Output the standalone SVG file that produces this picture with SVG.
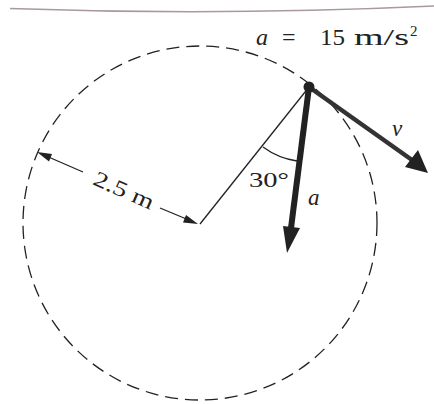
<svg xmlns="http://www.w3.org/2000/svg" width="434" height="404" viewBox="0 0 434 404">
<style>
text{font-family:"Liberation Serif","DejaVu Serif",serif;fill:#222}
.i{font-style:italic}
.thin{stroke:#222;stroke-width:1.3;fill:none}
.head{fill:#222}
</style>
<rect width="434" height="404" fill="#fff"/>
<path d="M10,8.5 Q220,16 434,6" stroke="#a89a98" stroke-width="1.6" fill="none"/>
<g id="path-circle">
<circle cx="200" cy="223" r="177" fill="none" stroke="#222" stroke-width="1.3" stroke-dasharray="13 7"/>
</g>
<g id="connectors">
<line id="radius" x1="200" y1="224" x2="309" y2="87" class="thin"/>
<path id="angle-arc" d="M263,147 A76,76 0 0 0 297,161" class="thin"/>
<line id="dim-left" x1="45" y1="155.5" x2="83" y2="172" class="thin"/>
<path class="head" d="M37,152 L52,154 L49,161.5 Z"/>
<line id="dim-right" x1="160" y1="208" x2="190" y2="220.5" class="thin"/>
<path class="head" d="M198,224 L183,222.5 L186,215 Z"/>
<line id="accel" x1="309" y1="87" x2="291" y2="228" stroke="#222" stroke-width="6"/>
<path class="head" d="M283,226 L300,228 L287,253 Z"/>
<line id="vel" x1="309" y1="87" x2="412" y2="160" stroke="#333" stroke-width="4.5"/>
<path class="head" d="M405,167 L418,150 L428,173 Z"/>
</g>
<g id="particle">
<circle cx="309" cy="87" r="5.5" fill="#222"/>
</g>
<g id="labels">
<text y="45" font-size="24"><tspan class="i" x="256">a</tspan><tspan x="282">=</tspan><tspan x="320" textLength="25" lengthAdjust="spacingAndGlyphs">15</tspan><tspan x="354" textLength="55" lengthAdjust="spacingAndGlyphs">m/s</tspan><tspan font-size="15" x="410" y="36">2</tspan></text>
<text x="249" y="187" font-size="22" textLength="40" lengthAdjust="spacingAndGlyphs">30°</text>
<text class="i" x="308" y="205" font-size="23">a</text>
<text class="i" x="392" y="136" font-size="23">v</text>
<text x="0" y="0" font-size="22" text-anchor="middle" textLength="64" lengthAdjust="spacingAndGlyphs" transform="translate(121,197) rotate(24)">2.5 m</text>
</g>
</svg>
